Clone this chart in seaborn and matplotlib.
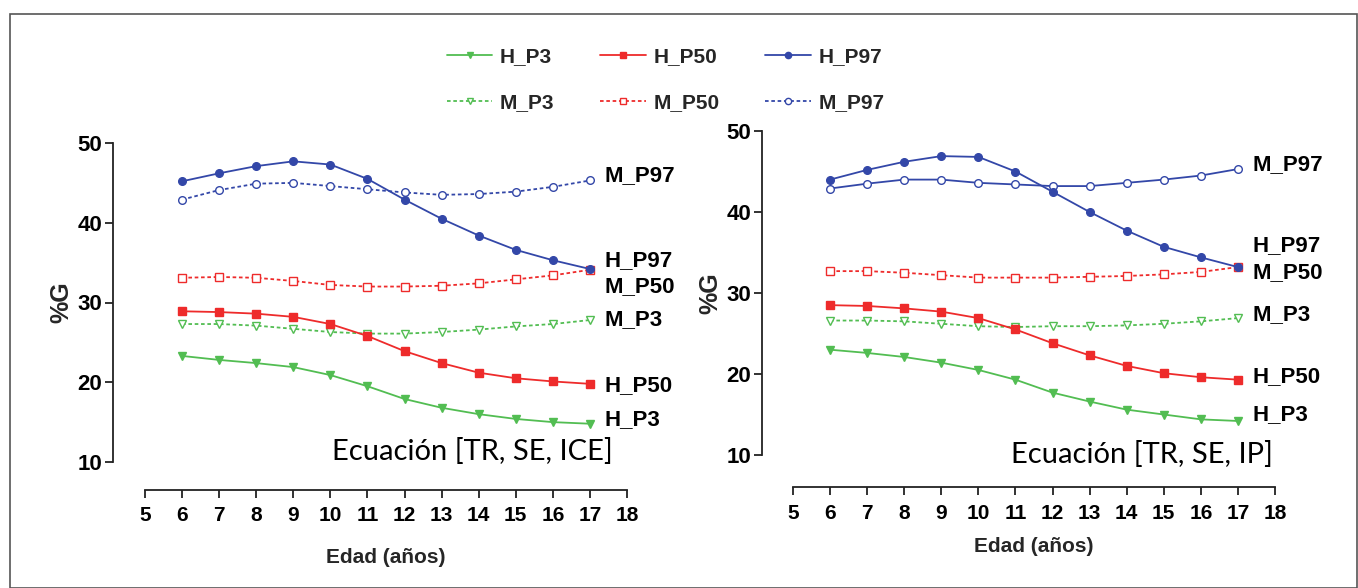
import numpy as np
import pandas as pd
import seaborn as sns
import matplotlib
matplotlib.use("Agg")
import matplotlib.pyplot as plt
from matplotlib.lines import Line2D
from matplotlib.patches import Rectangle

ages = [6, 7, 8, 9, 10, 11, 12, 13, 14, 15, 16, 17]
series_names = ["H_P3", "H_P50", "H_P97", "M_P3", "M_P50", "M_P97"]

# Left panel: Ecuación [TR, SE, ICE]
ice_H_P97 = [45.2, 46.2, 47.1, 47.7, 47.3, 45.5, 42.9, 40.5, 38.4, 36.6, 35.3, 34.2]
ice_M_P97 = [42.9, 44.1, 44.9, 45.0, 44.6, 44.2, 43.8, 43.5, 43.6, 43.9, 44.5, 45.3]
ice_M_P50 = [33.1, 33.2, 33.1, 32.7, 32.2, 32.0, 32.0, 32.1, 32.4, 32.9, 33.4, 34.1]
ice_H_P50 = [28.9, 28.8, 28.6, 28.2, 27.3, 25.8, 23.9, 22.4, 21.2, 20.5, 20.1, 19.8]
ice_M_P3 = [27.3, 27.3, 27.1, 26.7, 26.3, 26.1, 26.1, 26.3, 26.6, 27.0, 27.3, 27.8]
ice_H_P3 = [23.3, 22.8, 22.4, 21.9, 20.9, 19.5, 17.9, 16.8, 16.0, 15.4, 15.0, 14.8]

# Right panel: Ecuación [TR, SE, IP]
ip_H_P97 = [44.0, 45.2, 46.2, 46.9, 46.8, 45.0, 42.5, 40.0, 37.7, 35.7, 34.4, 33.2]
ip_M_P97 = [42.9, 43.5, 44.0, 44.0, 43.6, 43.4, 43.2, 43.2, 43.6, 44.0, 44.5, 45.3]
ip_M_P50 = [32.7, 32.7, 32.5, 32.2, 31.9, 31.9, 31.9, 32.0, 32.1, 32.3, 32.6, 33.2]
ip_H_P50 = [28.5, 28.4, 28.1, 27.7, 26.9, 25.5, 23.8, 22.3, 21.0, 20.1, 19.6, 19.3]
ip_M_P3 = [26.6, 26.6, 26.5, 26.2, 25.9, 25.8, 25.9, 25.9, 26.0, 26.2, 26.5, 26.9]
ip_H_P3 = [23.0, 22.6, 22.1, 21.4, 20.5, 19.3, 17.7, 16.6, 15.6, 15.0, 14.4, 14.2]

x_ticks = [5, 6, 7, 8, 9, 10, 11, 12, 13, 14, 15, 16, 17, 18]
y_ticks = [10, 20, 30, 40, 50]
titles = ["Ecuación [TR, SE, ICE]", "Ecuación [TR, SE, IP]"]

# end labels (text, y position) per panel
labels_ice = [("M_P97", 45.9), ("H_P97", 35.2), ("M_P50", 32.0), ("M_P3", 27.8), ("H_P50", 19.6), ("H_P3", 15.3)]
labels_ip = [("M_P97", 45.8), ("H_P97", 35.8), ("M_P50", 32.5), ("M_P3", 27.3), ("H_P50", 19.7), ("H_P3", 15.0)]

sns.set_theme(style="white")
plt.rcParams['font.family'] = ['Liberation Sans', 'DejaVu Sans']

GREEN = "#52bd52"
RED = "#ee2b2b"
BLUE = "#3347a8"

styles = {
    "H_P3": dict(color=GREEN, marker="v", mfc=GREEN, ls="-"),
    "H_P50": dict(color=RED, marker="s", mfc=RED, ls="-"),
    "H_P97": dict(color=BLUE, marker="o", mfc=BLUE, ls="-"),
    "M_P3": dict(color=GREEN, marker="v", mfc="white", ls=(0, (2, 1.5))),
    "M_P50": dict(color=RED, marker="s", mfc="white", ls=(0, (2, 1.5))),
    "M_P97": dict(color=BLUE, marker="o", mfc="white", ls=(0, (2, 1.5))),
}

fig = plt.figure(figsize=(13.58, 5.88), dpi=100)
fig.patch.set_facecolor("white")
fig.add_artist(Rectangle((10 / 1358, 0.0), 1 - 10 / 1358 - 0.001, 1 - 14 / 588,
                         transform=fig.transFigure, fill=False, edgecolor="#555555", lw=1.2))

ax1 = fig.add_axes([145 / 1358, 1 - 462 / 588, 482 / 1358, 319 / 588])
ax2 = fig.add_axes([793 / 1358, 1 - 455 / 588, 482 / 1358, 324 / 588])

panels = [
    (ax1, {"H_P3": ice_H_P3, "H_P50": ice_H_P50, "H_P97": ice_H_P97,
           "M_P3": ice_M_P3, "M_P50": ice_M_P50, "M_P97": ice_M_P97}, labels_ice, (23, 20), 0.97, -0.01, 16),
    (ax2, {"H_P3": ip_H_P3, "H_P50": ip_H_P50, "H_P97": ip_H_P97,
           "M_P3": ip_M_P3, "M_P50": ip_M_P50, "M_P97": ip_M_P97}, labels_ip, (22, 23), 0.995, -0.04, 10),
]

for i, (ax, data, labels, offs, tx, ty, xlp) in enumerate(panels):
    for name in ["M_P97", "M_P50", "M_P3", "H_P97", "H_P50", "H_P3"]:
        st = styles[name]
        ls = st["ls"]
        if i == 1 and name == "M_P97":
            ls = "-"
        df = pd.DataFrame({"Edad": ages, "G": data[name]})
        sns.lineplot(data=df, x="Edad", y="G", ax=ax, color=st["color"], marker=st["marker"],
                     markersize=5.5, markerfacecolor=st["mfc"], markeredgecolor=st["color"],
                     markeredgewidth=1.0, linewidth=1.3, linestyle=ls)
    ax.set_xlim(5, 18)
    ax.set_ylim(10, 50)
    sns.despine(ax=ax)
    ax.spines["left"].set_position(("outward", offs[0]))
    ax.spines["bottom"].set_position(("outward", offs[1]))
    for sp in ["left", "bottom"]:
        ax.spines[sp].set_color("#222222")
        ax.spines[sp].set_linewidth(1.3)
    ax.set_xticks(x_ticks)
    ax.set_yticks(y_ticks)
    ax.tick_params(axis="both", which="major", direction="out", length=6, width=1.3,
                   color="#222222", left=True, bottom=True, pad=3, labelcolor="black")
    ax.tick_params(axis="x", labelsize=15, pad=6)
    ax.tick_params(axis="y", labelsize=16, pad=2)
    for lab in ax.get_xticklabels() + ax.get_yticklabels():
        lab.set_fontweight("bold")
    ax.set_xlabel("Edad (años)", fontsize=15, fontweight="bold", labelpad=xlp)
    ax.set_ylabel("%G", fontsize=18, fontweight="bold", labelpad=3)
    ax.grid(False)
    for txt, yv in labels:
        ax.text(17.4, yv, txt, fontsize=16, fontweight="bold", va="center", ha="left", color="black")
    ax.text(tx, ty, titles[i], transform=ax.transAxes, ha="right", va="bottom",
            fontsize=21, family=["Lato", "DejaVu Sans"], color="black")
    ax.set_facecolor("white")

order = ["H_P3", "M_P3", "H_P50", "M_P50", "H_P97", "M_P97"]
handles = []
for name in order:
    st = styles[name]
    handles.append(Line2D([0], [0], color=st["color"], marker=st["marker"], markersize=4.5,
                          markerfacecolor=st["mfc"], markeredgecolor=st["color"],
                          linestyle=st["ls"], linewidth=1.3))
leg = fig.legend(handles, order, loc="upper center", bbox_to_anchor=(0.49, 0.952),
                 ncol=3, frameon=False, prop=dict(weight="bold", size=15),
                 columnspacing=2.2, handlelength=2.2, handletextpad=0.35, labelspacing=1.3)

fig.savefig("out.png", dpi=100, facecolor="white")
